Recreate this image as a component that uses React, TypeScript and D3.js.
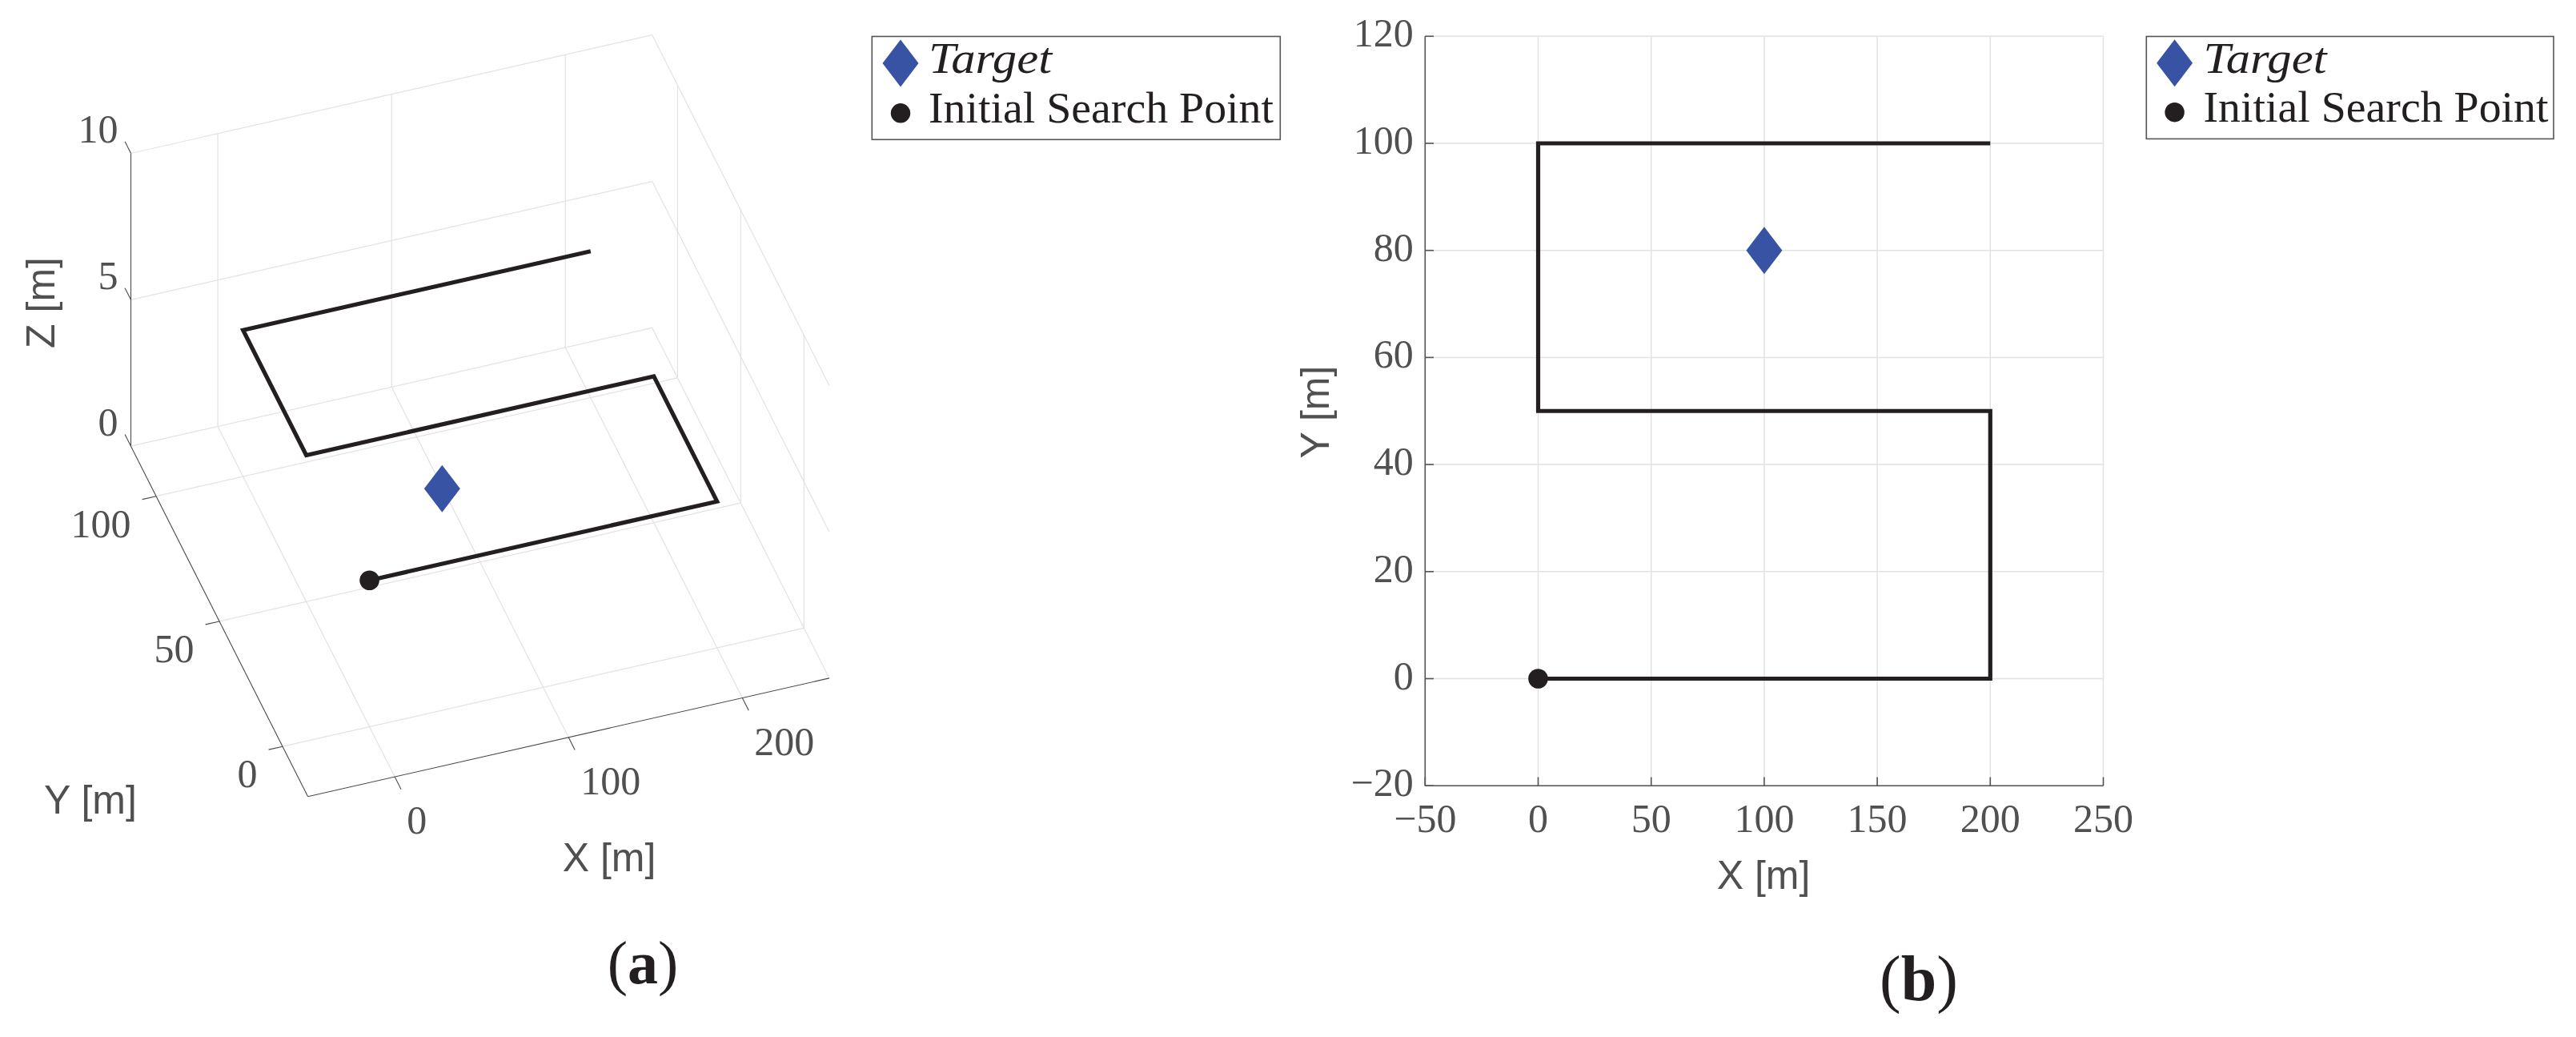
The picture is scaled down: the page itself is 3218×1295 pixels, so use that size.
import React from "react";
import * as d3 from "d3";

const pathX = [0, 200, 200, 0, 0, 200];
const pathY = [0, 0, 50, 50, 100, 100];
const pathHeight = 5;
const targetPoint = [100, 80, 0];
const startPoint = [0, 0, 5];

const xDomain3d = [-50, 250];
const yDomain3d = [-20, 120];
const zDomain3d = [0, 10];
const xTicks3d = [0, 100, 200];
const yTicks3d = [0, 50, 100];
const zTicks3d = [0, 5, 10];

const xDomain2d = [-50, 250];
const yDomain2d = [-20, 120];
const xTicks2d = [-50, 0, 50, 100, 150, 200, 250];
const yTicks2d = [-20, 0, 20, 40, 60, 80, 100, 120];

const legendLabels = ["Target", "Initial Search Point"];

const INK = "#231f20";
const BLUE = "#3953a4";
const AXIS = "#555555";
const GRID = "#e2e2e2";
const TEXT = "#505050";
const SERIF = "'Liberation Serif', serif";
const SANS = "'Liberation Sans', sans-serif";

const fmt = (v: number) => (v < 0 ? "\u2212" + Math.abs(v) : String(v));

// Oblique projection of panel (a): each data axis maps to a pixel offset.
const pxFromX = d3.scaleLinear().domain(xDomain3d).range([353, 1004.3]);
const pyFromX = d3.scaleLinear().domain(xDomain3d).range([24.6, -123.2]);
const pxFromY = d3.scaleLinear().domain(yDomain3d).range([31.6, -189.5]);
const pyFromY = d3.scaleLinear().domain(yDomain3d).range([62.5, -375]);
const pyFromZ = d3.scaleLinear().domain(zDomain3d).range([907.6, 541.9]);
const project = (x: number, y: number, z: number): [number, number] => [
  pxFromX(x) + pxFromY(y),
  pyFromZ(z) + pyFromX(x) + pyFromY(y),
];

const xScale2d = d3.scaleLinear().domain(xDomain2d).range([1780.3, 2627.5]);
const yScale2d = d3.scaleLinear().domain(yDomain2d).range([981.2, 45.3]);

const line = d3.line<[number, number]>();
const seg3 = (a: number[], b: number[]) =>
  line([project(a[0], a[1], a[2]), project(b[0], b[1], b[2])]) as string;

const [xMin, xMax] = xDomain3d;
const [yMin, yMax] = yDomain3d;
const [zMin, zMax] = zDomain3d;

const grid3d: string[] = [
  ...zTicks3d.map((z) => seg3([xMin, yMax, z], [xMax, yMax, z])),
  ...zTicks3d.map((z) => seg3([xMax, yMin, z], [xMax, yMax, z])),
  ...xTicks3d.map((x) => seg3([x, yMax, zMin], [x, yMax, zMax])),
  ...yTicks3d.map((y) => seg3([xMax, y, zMin], [xMax, y, zMax])),
  ...xTicks3d.map((x) => seg3([x, yMin, zMin], [x, yMax, zMin])),
  ...yTicks3d.map((y) => seg3([xMin, y, zMin], [xMax, y, zMin])),
];

const axes3d: string[] = [
  seg3([xMin, yMax, zMin], [xMin, yMax, zMax]),
  seg3([xMin, yMin, zMin], [xMin, yMax, zMin]),
  seg3([xMin, yMin, zMin], [xMax, yMin, zMin]),
  ...xTicks3d.map((x) => seg3([x, yMin, zMin], [x, yMin - 5, zMin])),
  ...yTicks3d.map((y) => seg3([xMin, y, zMin], [xMin - 8, y, zMin])),
  ...zTicks3d.map((z) => seg3([xMin, yMax, z], [xMin, yMax + 4.7, z])),
];

const path3d = line(pathX.map((x, i) => project(x, pathY[i], pathHeight))) as string;
const path2d = line(pathX.map((x, i) => [xScale2d(x), yScale2d(pathY[i])] as [number, number])) as string;

const diamond = (cx: number, cy: number) =>
  `M${cx},${cy - 29.5}L${cx + 22.5},${cy}L${cx},${cy + 29.5}L${cx - 22.5},${cy}Z`;

function Legend({ x0, x1, y0, y1, mx, tx, yD, yC, bT, bI }: Record<string, number>) {
  return (
    <g>
      <rect x={x0} y={y0} width={x1 - x0} height={y1 - y0} fill="#fff" stroke={AXIS} strokeWidth={1.6} />
      <path d={diamond(mx, yD)} fill={BLUE} />
      <circle cx={mx} cy={yC} r={12.2} fill={INK} />
      <text x={tx} y={bT} fontFamily={SERIF} fontStyle="italic" fontSize={54} fill={INK} textLength={154} lengthAdjust="spacingAndGlyphs">
        {legendLabels[0]}
      </text>
      <text x={tx} y={bI} fontFamily={SERIF} fontSize={54} fill={INK} textLength={431} lengthAdjust="spacingAndGlyphs">
        {legendLabels[1]}
      </text>
    </g>
  );
}

export default function App() {
  const start3 = project(startPoint[0], startPoint[1], startPoint[2]);
  const target3 = project(targetPoint[0], targetPoint[1], targetPoint[2]);
  return (
    <svg
      width={3218}
      height={1295}
      viewBox="0 0 3218 1295"
      style={{ position: "absolute", left: 0, top: 0, display: "block", background: "#fff" }}
    >
      {/* Panel (a) */}
      <g fill="none" stroke={GRID} strokeWidth={1.2}>
        {grid3d.map((d, i) => (
          <path key={i} d={d} />
        ))}
      </g>
      <g fill="none" stroke="#4a4a4a" strokeWidth={1.1}>
        {axes3d.map((d, i) => (
          <path key={i} d={d} />
        ))}
      </g>
      <path d={path3d} fill="none" stroke={INK} strokeWidth={5.2} strokeLinejoin="miter" />
      <path d={diamond(target3[0], target3[1] + 2)} fill={BLUE} />
      <circle cx={start3[0]} cy={start3[1]} r={12.3} fill={INK} />
      <g fontFamily={SERIF} fontSize={50} fill={TEXT}>
        {zTicks3d.map((z) => {
          const [px, py] = project(xMin, yMax, z);
          return (
            <text key={z} x={px - 16} y={py - 13.5} textAnchor="end">
              {z}
            </text>
          );
        })}
        {yTicks3d.map((y) => {
          const [px, py] = project(xMin, y, zMin);
          return (
            <text key={y} x={px - 31.5} y={py + 51} textAnchor="end">
              {y}
            </text>
          );
        })}
        {xTicks3d.map((x) => {
          const [px, py] = project(x, yMin, zMin);
          return (
            <text key={x} x={px + 15} y={py + 71}>
              {x}
            </text>
          );
        })}
      </g>
      <g fontFamily={SANS} fontSize={50} fill={TEXT}>
        <text x={761} y={1087.6} textAnchor="middle">X [m]</text>
        <text x={113} y={1015.8} textAnchor="middle">Y [m]</text>
        <text transform="translate(68,378) rotate(-90)" textAnchor="middle">Z [m]</text>
      </g>
      <Legend x0={1089.3} x1={1599.3} y0={45.5} y1={174.3} mx={1125} tx={1160} yD={79} yC={141.3} bT={91} bI={152.7} />
      <text x={803} y={1228} textAnchor="middle" fontFamily={SERIF} fontSize={76} fill={INK}>
        (<tspan fontWeight="bold">a</tspan>)
      </text>

      {/* Panel (b) */}
      <g stroke={GRID} strokeWidth={1.5}>
        {xTicks2d.map((x) => (
          <line key={x} x1={xScale2d(x)} x2={xScale2d(x)} y1={yScale2d(yDomain2d[0])} y2={yScale2d(yDomain2d[1])} />
        ))}
        {yTicks2d.map((y) => (
          <line key={y} y1={yScale2d(y)} y2={yScale2d(y)} x1={xScale2d(xDomain2d[0])} x2={xScale2d(xDomain2d[1])} />
        ))}
      </g>
      <g stroke={AXIS} strokeWidth={1.6}>
        <line x1={xScale2d(xDomain2d[0])} x2={xScale2d(xDomain2d[1])} y1={yScale2d(yDomain2d[0])} y2={yScale2d(yDomain2d[0])} />
        <line x1={xScale2d(xDomain2d[0])} x2={xScale2d(xDomain2d[0])} y1={yScale2d(yDomain2d[0])} y2={yScale2d(yDomain2d[1])} />
        {xTicks2d.map((x) => (
          <line key={x} x1={xScale2d(x)} x2={xScale2d(x)} y1={yScale2d(yDomain2d[0])} y2={yScale2d(yDomain2d[0]) - 10.7} />
        ))}
        {yTicks2d.map((y) => (
          <line key={y} y1={yScale2d(y)} y2={yScale2d(y)} x1={xScale2d(xDomain2d[0])} x2={xScale2d(xDomain2d[0]) + 10.7} />
        ))}
      </g>
      <path d={path2d} fill="none" stroke={INK} strokeWidth={5.2} strokeLinejoin="miter" />
      <path d={diamond(xScale2d(targetPoint[0]), yScale2d(targetPoint[1]))} fill={BLUE} />
      <circle cx={xScale2d(startPoint[0])} cy={yScale2d(startPoint[1])} r={12.3} fill={INK} />
      <g fontFamily={SERIF} fontSize={50} fill={TEXT}>
        {xTicks2d.map((x) => (
          <text key={x} x={xScale2d(x)} y={1038.7} textAnchor="middle">
            {fmt(x)}
          </text>
        ))}
        {yTicks2d.map((y) => (
          <text key={y} x={1765.7} y={yScale2d(y) + 13} textAnchor="end">
            {fmt(y)}
          </text>
        ))}
      </g>
      <g fontFamily={SANS} fontSize={50} fill={TEXT}>
        <text x={2203} y={1110} textAnchor="middle">X [m]</text>
        <text transform="translate(1660,514.5) rotate(-90)" textAnchor="middle">Y [m]</text>
      </g>
      <Legend x0={2681.3} x1={3190} y0={45.5} y1={173.4} mx={2716.6} tx={2752.5} yD={78.7} yC={140.2} bT={91} bI={152} />
      <text x={2397} y={1249} textAnchor="middle" fontFamily={SERIF} fontSize={80} fill={INK}>
        (<tspan fontWeight="bold">b</tspan>)
      </text>
    </svg>
  );
}
